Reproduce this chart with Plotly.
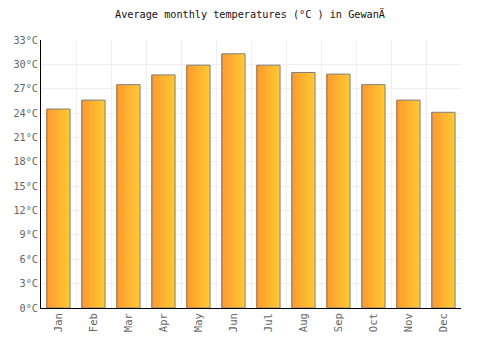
import plotly.graph_objects as go

months = ["Jan", "Feb", "Mar", "Apr", "May", "Jun", "Jul", "Aug", "Sep", "Oct", "Nov", "Dec"]
temps = [24.5, 25.6, 27.5, 28.7, 29.9, 31.3, 29.9, 29.0, 28.8, 27.5, 25.6, 24.1]
tick_vals = list(range(0, 34, 3))
tick_text = [f"{v}°C" for v in tick_vals]

bar_width = 0.66
n_strips = 14
c0 = (255, 154, 46)
c1 = (255, 200, 52)

fig = go.Figure()
sw = bar_width / n_strips
for i in range(n_strips):
    t = i / (n_strips - 1)
    col = tuple(round(a + (b - a) * t) for a, b in zip(c0, c1))
    fig.add_trace(go.Bar(
        x=months, y=temps, width=sw * 1.05, offset=-bar_width / 2 + i * sw,
        marker=dict(color=f"rgb{col}", line=dict(width=0)),
        hoverinfo="skip", showlegend=False,
    ))
fig.add_trace(go.Bar(
    x=months, y=temps, width=bar_width, offset=-bar_width / 2,
    marker=dict(color="rgba(0,0,0,0)", line=dict(color="#7f7f7f", width=1)),
    showlegend=False,
))

mono = "DejaVu Sans Mono"
fig.update_layout(
    width=500, height=350,
    margin=dict(l=41, r=39, t=40, b=42),
    barmode="overlay",
    plot_bgcolor="white", paper_bgcolor="white",
    title=dict(text="Average monthly temperatures (°C ) in GewanÄ", x=0.5, xanchor="center",
               y=0.96, yanchor="middle", font=dict(family=mono, size=10.2, color="#111")),
    xaxis=dict(type="category", tickson="boundaries", showgrid=True, gridcolor="#efefef",
               showline=True, linecolor="#000", linewidth=1, tickangle=-90,
               ticks="", tickfont=dict(family=mono, size=10.5, color="#666")),
    yaxis=dict(range=[0, 33], tickvals=tick_vals, ticktext=tick_text, showgrid=True,
               gridcolor="#efefef", showline=True, linecolor="#000", linewidth=1,
               ticks="", zeroline=False, tickfont=dict(family=mono, size=10.2, color="#666")),
)
fig.write_html("out.html")
